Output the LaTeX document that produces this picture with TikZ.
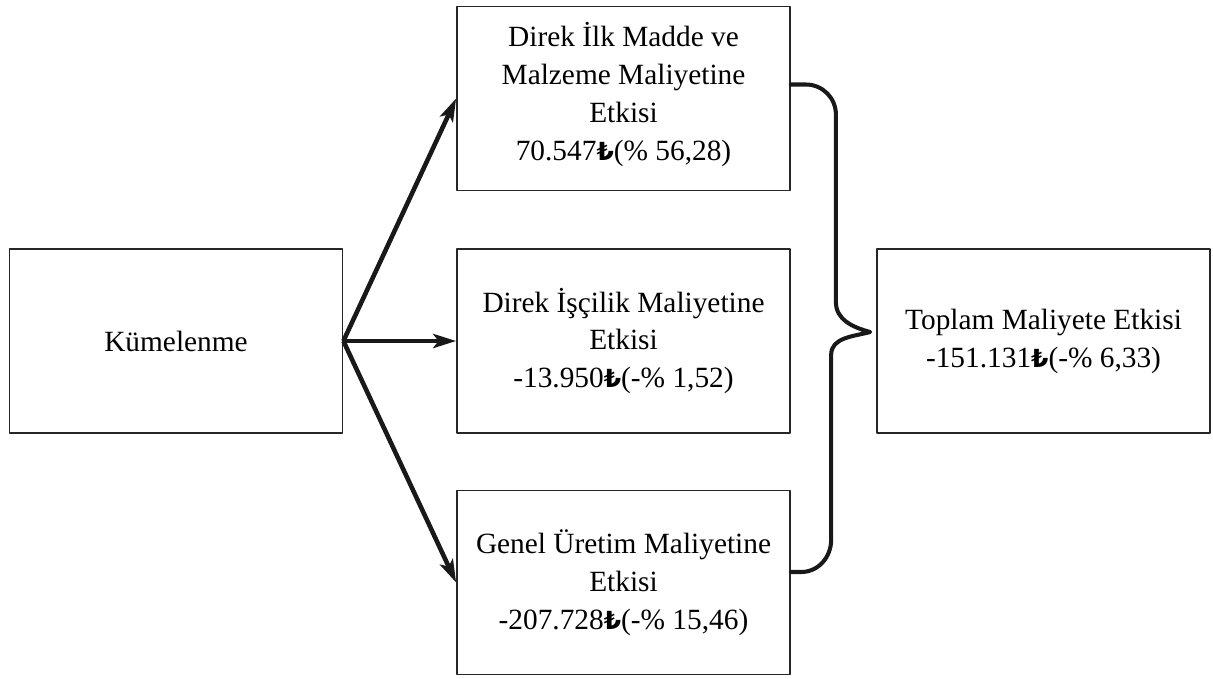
\documentclass[tikz,border=0pt]{standalone}
\usepackage{fontspec}
\setmainfont{Liberation Serif}
\newfontfamily\lirafont{DejaVu Sans}[Scale=0.85]
\newcommand{\liraSym}{{\lirafont\bfseries ₺}}
\usetikzlibrary{arrows.meta}
\begin{document}
\begin{tikzpicture}[font=\fontsize{16.7}{21.6}\selectfont, line join=round, >={Stealth[length=13pt,width=8pt,inset=3pt]}]
		\tikzset{
		kutu/.style={draw=black!85,line width=1pt,minimum width=6.66cm,minimum height=3.68cm,align=center,inner sep=0pt},
		ok/.style={->,black!90,line width=2.6pt},
		kavis/.style={black!90,line width=2.3pt,line cap=round}
		}
		\useasboundingbox (0,0) rectangle (24.26,-13.56);
		\node[kutu] (kum) at (3.52,-6.82) {K\"umelenme};
		\node[kutu] (ilk) at (12.47,-1.97) {Direk \.Ilk Madde ve\\Malzeme Maliyetine\\Etkisi\\70.547\liraSym(\% 56,28)\\[-14pt]};
		\node[kutu] (isc) at (12.47,-6.82) {Direk \.I\c{s}\c{c}ilik Maliyetine\\Etkisi\\-13.950\liraSym(-\% 1,52)};
		\node[kutu] (gen) at (12.47,-11.65) {Genel \"Uretim Maliyetine\\Etkisi\\-207.728\liraSym(-\% 15,46)};
		\node[kutu] (top) at (20.87,-6.82) {Toplam Maliyete Etkisi\\-151.131\liraSym(-\% 6,33)};
		\draw[ok] (kum.east) -- (ilk.west);
		\draw[ok] (kum.east) -- (isc.west);
		\draw[ok] (kum.east) -- (gen.west);
		\coordinate (brA) at ([yshift=2.8mm]ilk.east);
		\coordinate (brB) at ([yshift=2.1mm]gen.east);
		\coordinate (brT) at ([xshift=-1.2mm,yshift=1.8mm]top.west);
		\draw[kavis] (brA) -- ++(0.3,0) to[out=0,in=90] ++(0.6,-0.6) -- ++(0,-3.75) to[out=-90,in=165] (brT)
		to[out=195,in=90] ++(-0.78,-0.46) -- ++(0,-3.7) to[out=-90,in=0] ++(-0.6,-0.64) -- (brB);
	\end{tikzpicture}
\end{document}
